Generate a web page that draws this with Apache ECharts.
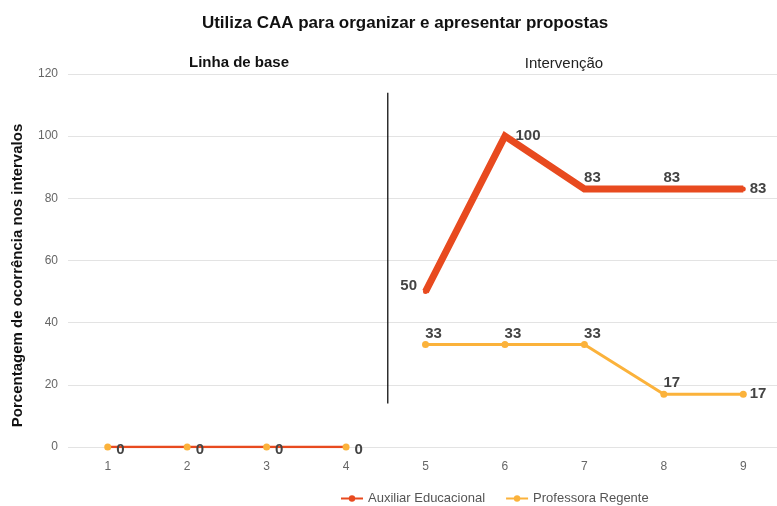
<!DOCTYPE html>
<html><head><meta charset="utf-8">
<script src="https://cdn.jsdelivr.net/npm/echarts@6/dist/echarts.min.js"></script>
<style>html,body{margin:0;padding:0;background:#fff}#c{width:777px;height:506px}</style>
</head><body><div id="c"></div>
<script>
const categories = ['1','2','3','4','5','6','7','8','9'];
const auxBase = [0,0,0,0,null,null,null,null,null];
const auxInt = [null,null,null,null,50,100,83,83,83];
const profBase = [0,0,0,0,null,null,null,null,null];
const profInt = [null,null,null,null,33,33,33,17,17];
const auxIntLabelPos = [null,null,null,null,'left','right','top','top','right'];
const profIntLabelPos = [null,null,null,null,'top','top','top','top','right'];
const yTicks = [0,20,40,60,80,100,120];

const RED = '#E84A1F', YEL = '#FBB23B';
const lblStyle = {show:true, color:'#444', fontWeight:'bold', fontSize:15, fontFamily:'Liberation Sans, Arial'};

function withPos(arr, pos){
  return arr.map((v,i)=> {
    if (v===null) return null;
    const p = pos[i];
    const off = p==='top' ? [8,3] : (p==='left' ? [-2,-6] : (i===5 ? [4,0] : [0,0]));
    return {value:v, label:{position:p, offset:off}};
  });
}

const chart = echarts.init(document.getElementById('c'));
const option = {
  animation:false,
  textStyle:{fontFamily:'Liberation Sans, Arial'},
  title:[
    {text:'Utiliza CAA para organizar e apresentar propostas', left:400, top:10, textAlign:'center',
     textStyle:{fontSize:17, fontWeight:'bold', color:'#111'}},
    {text:'Linha de base', left:234, top:50, textAlign:'center',
     textStyle:{fontSize:15, fontWeight:'bold', color:'#111'}},
    {text:'Intervenção', left:559, top:51, textAlign:'center',
     textStyle:{fontSize:15, fontWeight:'normal', color:'#222'}}
  ],
  legend:{top:487, left:335, itemWidth:22, itemHeight:8, itemGap:20,
    data:['Auxiliar Educacional','Professora Regente'],
    textStyle:{fontSize:13, color:'#555'}},
  grid:{left:68, width:715, top:74, height:373, outerBoundsMode:'none'},
  xAxis:{type:'category', data:categories, boundaryGap:true,
    axisLine:{show:false}, axisTick:{show:false},
    axisLabel:{color:'#666', fontSize:12, margin:14}},
  yAxis:{type:'value', min:0, max:120, interval:20,
    name:'Porcentagem de ocorrência nos intervalos', nameLocation:'middle', nameGap:43,
    nameTextStyle:{fontSize:15, fontWeight:'bold', color:'#111', padding:[0,30,0,0]},
    axisLabel:{color:'#666', fontSize:12, margin:10},
    splitLine:{lineStyle:{color:'#e3e3e3'}}},
  series:[
    {name:'Auxiliar Educacional', type:'line', data:withPos(auxInt, auxIntLabelPos), z:2,
     symbol:'circle', symbolSize:5, showSymbol:true, itemStyle:{color:RED}, lineStyle:{color:RED, width:7, join:'miter'},
     label:Object.assign({}, lblStyle, {distance:4})},
    {name:'Professora Regente', type:'line', data:withPos(profInt, profIntLabelPos), z:2,
     symbol:'circle', symbolSize:7, itemStyle:{color:YEL}, lineStyle:{color:YEL, width:3},
     label:Object.assign({}, lblStyle, {distance:3})},
    {name:'Auxiliar Educacional', type:'line', data:auxBase, z:2,
     symbol:'circle', symbolSize:1, itemStyle:{color:RED}, lineStyle:{color:RED, width:2.5},
     label:Object.assign({}, lblStyle, {position:'right', distance:8, offset:[0,3]})},
    {name:'Professora Regente', type:'line', data:profBase, z:3,
     symbol:'circle', symbolSize:7, itemStyle:{color:YEL}, lineStyle:{color:YEL, width:0, opacity:0},
     label:{show:false}}
  ]
};
chart.setOption(option);
const p4 = chart.convertToPixel({xAxisIndex:0, yAxisIndex:0}, [3, 114]);
const p5 = chart.convertToPixel({xAxisIndex:0, yAxisIndex:0}, [4, 14]);
const xm = (p4[0]+p5[0])/2 + 2;
chart.setOption({graphic:[{type:'line', shape:{x1:xm, y1:p4[1], x2:xm, y2:p5[1]},
  style:{stroke:'#111', lineWidth:1.3}, z:10}]});
</script></body></html>
